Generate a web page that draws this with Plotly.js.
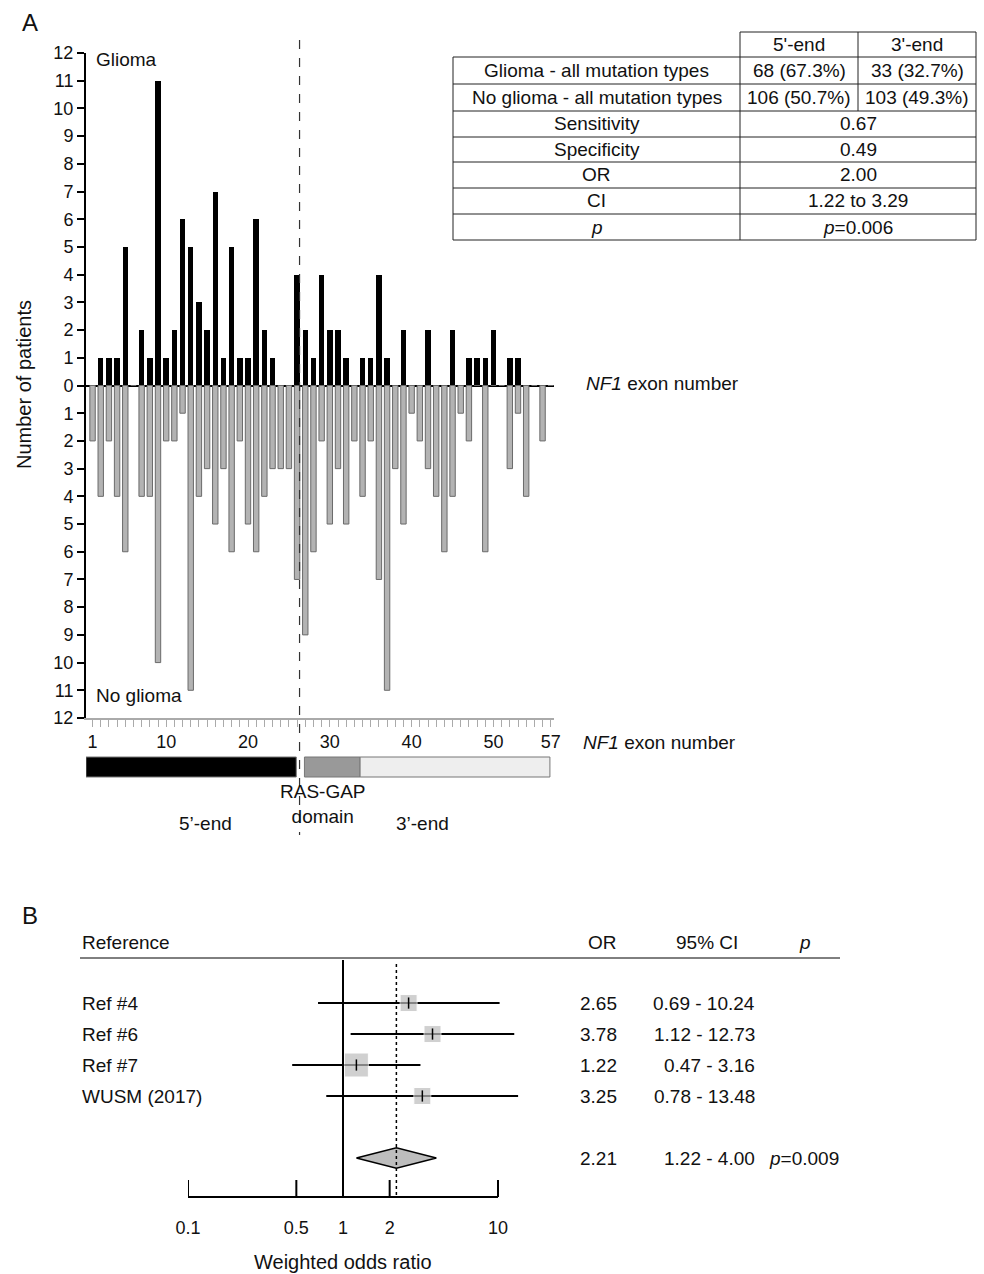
<!DOCTYPE html>
<html>
<head>
<meta charset="utf-8">
<script src="https://cdn.plot.ly/plotly-3.0.1.min.js"></script>
<style>body{margin:0;background:#fff}#chart{width:984px;height:1274px}</style>
</head>
<body>
<div id="chart"></div>
<script>
// ── Panel A data: patients per NF1 exon ─────────────────────────────
const exons = Array.from({length: 57}, (_, i) => i + 1);
const gliomaCounts = [
  0,1,1,1,5,0,2,1,11,1, 2,6,5,3,2,7,1,5,1,1,
  6,2,1,0,0,4,2,1,4,2, 2,1,0,1,1,4,1,0,2,0,
  0,2,0,0,2,0,1,1,1,2, 0,1,1,0,0,0,0];
const noGliomaCounts = [
  2,4,2,4,6,0,4,4,10,2, 2,1,11,4,3,5,3,6,2,5,
  6,4,3,3,3,7,9,6,2,5, 3,5,2,4,2,7,11,3,5,1,
  2,3,4,6,4,1,2,0,6,0, 0,3,1,4,0,2,0];
const exonTickVals = [1, 10, 20, 30, 40, 50, 57];
const yTickVals = [-12,-11,-10,-9,-8,-7,-6,-5,-4,-3,-2,-1,0,1,2,3,4,5,6,7,8,9,10,11,12];
const boundaryExon = 26.3;
const domainSegments = [
  {from: 0.2, to: 25.9, color: "#000000"},
  {from: 26.9, to: 33.7, color: "#999999"},
  {from: 33.7, to: 56.9, color: "#eeeeee"},
];

// table
const tableHeader = ["5'-end", "3'-end"];
const tableRows = [
  ["Glioma - all mutation types", "68 (67.3%)", "33 (32.7%)"],
  ["No glioma - all mutation types", "106 (50.7%)", "103 (49.3%)"],
  ["Sensitivity", "0.67"],
  ["Specificity", "0.49"],
  ["OR", "2.00"],
  ["CI", "1.22 to 3.29"],
  ["<i>p</i>", "<i>p</i>=0.006"],
];

// ── Panel B data: meta-analysis ─────────────────────────────────────
const studies = ["Ref #4", "Ref #6", "Ref #7", "WUSM (2017)"];
const studyOR = [2.65, 3.78, 1.22, 3.25];
const studyLow = [0.69, 1.12, 0.47, 0.78];
const studyHigh = [10.24, 12.73, 3.16, 13.48];
const studyWeightSize = [17, 17, 24, 17];
const pooled = {or: 2.21, low: 1.22, high: 4.00, p: "0.009"};
const forestTicks = [0.1, 0.5, 1, 2, 10];

// ── helpers ─────────────────────────────────────────────────────────
const W = 984, H = 1274;
const px = x => x / W;
const py = y => 1 - y / H;
const FONT = "Liberation Sans, Arial, sans-serif";
const TXT = 19;

const traces = [];
const shapes = [];
const annotations = [];

function label(x, y, text, opts = {}) {
  annotations.push(Object.assign({
    x: px(x), y: py(y), xref: "paper", yref: "paper", text,
    showarrow: false, font: {size: TXT, family: FONT, color: "#111"},
    xanchor: "center", yanchor: "middle",
  }, opts));
}

// ── Panel A bars ────────────────────────────────────────────────────
traces.push({
  type: "bar", x: exons, y: gliomaCounts, width: 0.66,
  marker: {color: "#000", line: {width: 0}}, xaxis: "x", yaxis: "y",
  showlegend: false,
});
traces.push({
  type: "bar", x: exons, y: noGliomaCounts.map(v => -v), width: 0.66,
  marker: {color: "#b3b3b3", line: {width: 1, color: "#6a6a6a"}}, xaxis: "x", yaxis: "y",
  showlegend: false,
});

shapes.push({type: "line", xref: "x", yref: "paper", x0: boundaryExon, x1: boundaryExon,
  y0: py(40), y1: py(835), line: {color: "#333", width: 1.2, dash: "dash"}});

for (const s of domainSegments) {
  shapes.push({type: "rect", xref: "x", yref: "paper", x0: s.from, x1: s.to,
    y0: py(777), y1: py(757), fillcolor: s.color, line: {color: "#777", width: 1}});
}

// ── Table ───────────────────────────────────────────────────────────
const colX = [453, 740, 858, 976];
const rowY = [32, 57, 84, 111, 137, 162, 188, 214, 240];
const tl = {color: "#222", width: 1};
shapes.push({type: "line", xref: "paper", yref: "paper", x0: px(740), x1: px(976), y0: py(32), y1: py(32), line: tl});
for (const cx of colX.slice(1)) {
  shapes.push({type: "line", xref: "paper", yref: "paper", x0: px(cx), x1: px(cx), y0: py(32), y1: py(57), line: tl});
}
label(799, 45, tableHeader[0]);
label(917, 45, tableHeader[1]);
for (let r = 0; r < tableRows.length; r++) {
  const top = rowY[r + 1], bot = rowY[r + 2];
  shapes.push({type: "line", xref: "paper", yref: "paper", x0: px(453), x1: px(976), y0: py(top), y1: py(top), line: tl});
  const row = tableRows[r];
  const cols = row.length === 3 ? colX : [453, 740, 976];
  for (const cx of cols) {
    shapes.push({type: "line", xref: "paper", yref: "paper", x0: px(cx), x1: px(cx), y0: py(top), y1: py(bot), line: tl});
  }
  const mid = (top + bot) / 2;
  for (let c = 0; c < row.length; c++) {
    label((cols[c] + cols[c + 1]) / 2, mid, row[c]);
  }
}
shapes.push({type: "line", xref: "paper", yref: "paper", x0: px(453), x1: px(976), y0: py(240), y1: py(240), line: tl});

// ── Panel A texts ───────────────────────────────────────────────────
label(30, 22, "A", {font: {size: 24, family: FONT, color: "#111"}});
label(94, 60, "Glioma", {xanchor: "left"});
label(94, 695, "No glioma", {xanchor: "left"});
label(584, 383, "<i>NF1</i> exon number", {xanchor: "left"});
label(581, 742, "<i>NF1</i> exon number", {xanchor: "left"});
label(323, 804, "RAS-GAP<br>domain");
label(205, 823, "5’-end");
label(422, 823, "3’-end");
label(24, 385, "Number of patients", {textangle: -90, font: {size: 20, family: FONT, color: "#111"}});

// ── Panel B forest ──────────────────────────────────────────────────
const rowIdx = studies.map((_, i) => i);
const pooledRow = studies.length + 1;
traces.push({
  type: "scatter", mode: "markers", x: studyOR, y: rowIdx, xaxis: "x2", yaxis: "y2",
  marker: {symbol: "square", size: studyWeightSize, color: "#bdbdbd"},
  error_x: {type: "data", symmetric: false,
    array: studyHigh.map((h, i) => h - studyOR[i]),
    arrayminus: studyLow.map((l, i) => studyOR[i] - l),
    color: "#000", thickness: 2, width: 0},
  showlegend: false,
});
traces.push({
  type: "scatter", mode: "markers", x: studyOR, y: rowIdx, xaxis: "x2", yaxis: "y2",
  marker: {symbol: "line-ns", size: 8, line: {width: 1.5, color: "#000"}},
  showlegend: false,
});
const dh = 0.33;
traces.push({
  type: "scatter", mode: "lines", xaxis: "x2", yaxis: "y2",
  x: [pooled.low, pooled.or, pooled.high, pooled.or, pooled.low],
  y: [pooledRow, pooledRow - dh, pooledRow, pooledRow + dh, pooledRow],
  fill: "toself", fillcolor: "#bdbdbd", line: {color: "#000", width: 1.5},
  showlegend: false,
});

// forest x axis line and ticks drawn as shapes so error bars beyond 10 are not clipped
shapes.push({type: "line", xref: "x2", yref: "paper", x0: forestTicks[0], x1: forestTicks[forestTicks.length - 1],
  y0: py(1197), y1: py(1197), line: {color: "#000", width: 2}});
for (const t of forestTicks) {
  shapes.push({type: "line", xref: "x2", yref: "paper", x0: t, x1: t, y0: py(1197), y1: py(1180), line: {color: "#000", width: 2}});
}
shapes.push({type: "line", xref: "x2", yref: "paper", x0: 1, x1: 1, y0: py(960), y1: py(1197), line: {color: "#000", width: 2}});
shapes.push({type: "line", xref: "x2", yref: "paper", x0: pooled.or, x1: pooled.or, y0: py(964), y1: py(1197), line: {color: "#000", width: 1.5, dash: "dot"}});
shapes.push({type: "line", xref: "paper", yref: "paper", x0: px(80), x1: px(840), y0: py(958), y1: py(958), line: {color: "#000", width: 1}});

label(30, 915, "B", {font: {size: 24, family: FONT, color: "#111"}});
label(80, 942, "Reference", {xanchor: "left"});
label(602, 942, "OR");
label(707, 942, "95% CI");
label(805, 942, "<i>p</i>");
const rowPx = i => 1003 + 31 * i;
studies.forEach((s, i) => {
  label(80, rowPx(i), s, {xanchor: "left"});
  label(619, rowPx(i), studyOR[i].toFixed(2), {xanchor: "right"});
  label(757, rowPx(i), studyLow[i].toFixed(2) + " - " + studyHigh[i].toFixed(2), {xanchor: "right"});
});
label(619, rowPx(pooledRow), pooled.or.toFixed(2), {xanchor: "right"});
label(757, rowPx(pooledRow), pooled.low.toFixed(2) + " - " + pooled.high.toFixed(2), {xanchor: "right"});
label(767, rowPx(pooledRow), "<i>p</i>=" + pooled.p, {xanchor: "left"});
label(343, 1262, "Weighted odds ratio", {font: {size: 20, family: FONT, color: "#111"}});

const tickFont = {size: 18, family: FONT, color: "#111"};
const layout = {
  width: W, height: H,
  margin: {l: 0, r: 0, t: 0, b: 0},
  paper_bgcolor: "#fff", plot_bgcolor: "rgba(0,0,0,0)",
  barmode: "overlay", bargap: 0,
  font: {family: FONT, color: "#111"},
  xaxis: {
    domain: [px(86), px(554)], range: [0.2, 57.4], anchor: "y",
    tickvals: exons, ticktext: exons.map(e => exonTickVals.includes(e) ? String(e) : ""),
    ticks: "outside", ticklen: 7, tickcolor: "#aaa", tickwidth: 1,
    showline: true, linecolor: "#aaa", linewidth: 1.5,
    showgrid: false, zeroline: false, tickfont: tickFont,
  },
  yaxis: {
    domain: [py(718), py(53)], range: [-12, 12], anchor: "x",
    tickvals: yTickVals, ticktext: yTickVals.map(v => String(Math.abs(v))),
    ticks: "outside", ticklen: 7, tickwidth: 2, tickcolor: "#000",
    showline: true, linecolor: "#000", linewidth: 2,
    showgrid: false, zeroline: true, zerolinecolor: "#000", zerolinewidth: 2,
    tickfont: tickFont,
  },
  xaxis2: {
    domain: [px(188), px(188 + 2.2 * 155)], type: "log", range: [-1, 1.2], anchor: "y2",
    tickvals: forestTicks, ticktext: forestTicks.map(String),
    ticks: "", ticklabelstandoff: 18,
    showline: false, showgrid: false, zeroline: false, tickfont: tickFont,
  },
  yaxis2: {
    domain: [py(1197), py(960)], range: [6.26, -1.39], anchor: "x2",
    visible: false, showgrid: false, zeroline: false,
  },
  shapes, annotations,
};

Plotly.newPlot("chart", traces, layout, {displayModeBar: false, staticPlot: true});
</script>
</body>
</html>
